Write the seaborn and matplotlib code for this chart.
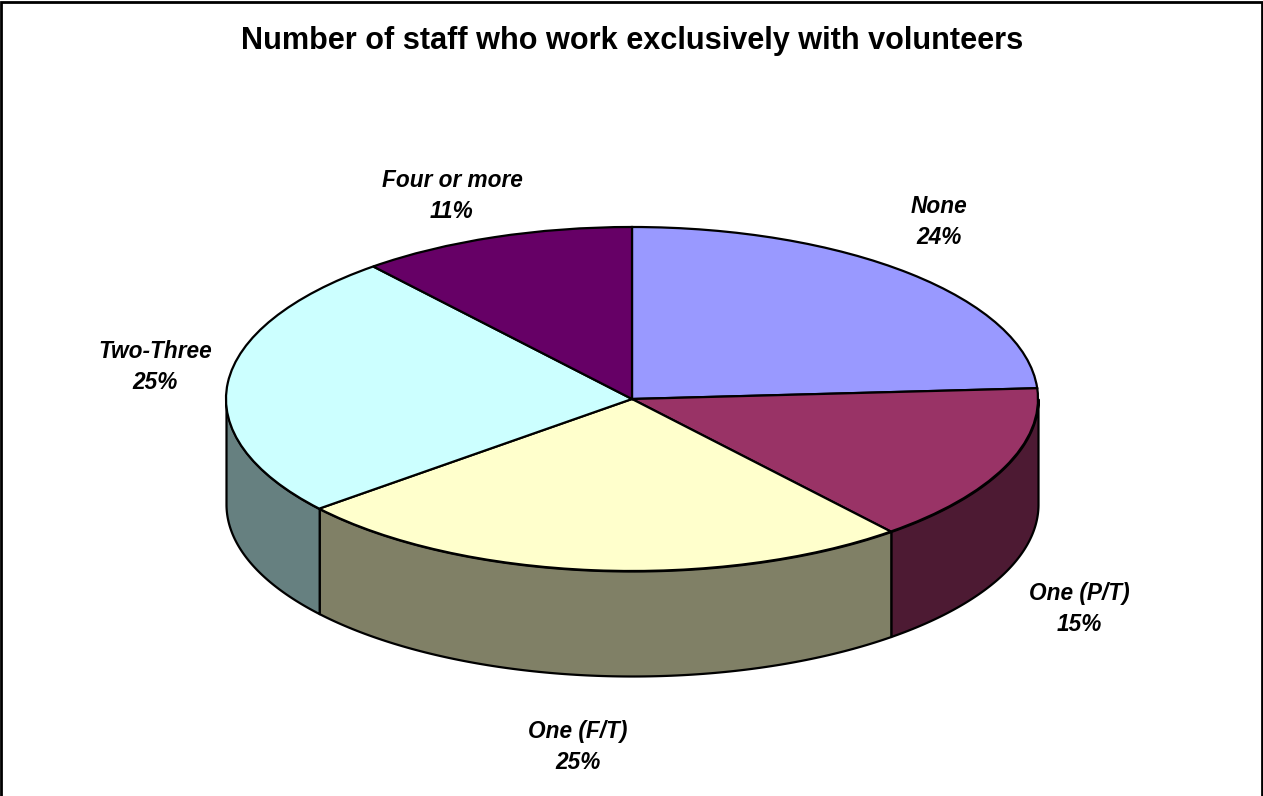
import numpy as np
import matplotlib
matplotlib.use("Agg")
import matplotlib.pyplot as plt
from matplotlib.lines import Line2D
import seaborn as sns

categories = ["None", "One (P/T)", "One (F/T)", "Two-Three", "Four or more"]
shares = [24, 15, 25, 25, 11]
top_colors = ["#9999FF", "#993366", "#FFFFCC", "#CCFFFF", "#660066"]
side_colors = ["#4D4D80", "#4D1A33", "#808066", "#668080", "#330033"]
title = "Number of staff who work exclusively with volunteers"

WIDTH, HEIGHT = 1263, 796
CX, CY = 632, 399      # disc centre, pixels from top left
RX, RY = 406, 172      # projected disc radii, pixels
DEPTH = 105            # height of the rim, pixels
LABEL_CENTRES = [(939, 222), (1079, 609), (578, 747), (155, 367), (452, 196)]

sns.set_theme(style="white")
plt.rcParams["font.family"] = ["Liberation Sans", "DejaVu Sans"]
palette = sns.color_palette(top_colors)
rim_palette = sns.color_palette(side_colors)

fig = plt.figure(figsize=(WIDTH / 100, HEIGHT / 100), dpi=100, facecolor="white")
ax = fig.add_axes([0, 0, 1, 1])

# Top face of the tilted disc: a pie squashed by the axis scales.
ax.pie(shares, colors=palette, startangle=90, counterclock=False,
       wedgeprops=dict(edgecolor="black", linewidth=1.6, zorder=3))
ax.set_aspect("auto")
ax.set_xlim(-CX / RX, (WIDTH - CX) / RX)
ax.set_ylim(-(HEIGHT - CY) / RY, CY / RY)

# Rim: only the front half of the disc (90 to 270 degrees clockwise from the top) shows.
edges = np.concatenate([[0], np.cumsum(shares)]) * 360 / sum(shares)
for start, stop, colour in zip(edges[:-1], edges[1:], rim_palette):
    lo, hi = max(start, 90), min(stop, 270)
    if lo >= hi:
        continue
    theta = np.radians(np.linspace(lo, hi, 120))
    x, y = np.sin(theta), np.cos(theta)
    ax.fill_between(x, y, y - DEPTH / RY, facecolor=colour, edgecolor="black",
                    linewidth=1.6, zorder=2)

# Slice captions.
for name, share, (px, py) in zip(categories, shares, LABEL_CENTRES):
    fig.text(px / WIDTH, 1 - py / HEIGHT, f"{name}\n{share}%", ha="center", va="center",
             fontsize=16.3, fontweight="bold", fontstyle="italic", color="black",
             linespacing=1.39)

fig.text(CX / WIDTH, 1 - 41 / HEIGHT, title, ha="center", va="center",
         fontsize=22.1, fontweight="bold", color="black")

# Chart-area frame along the left, top and right edges.
frame = Line2D([0.001, 0.001, 0.999, 0.999], [0, 0.9975, 0.9975, 0], color="black",
               linewidth=2, transform=fig.transFigure, solid_joinstyle="miter")
fig.add_artist(frame)

fig.savefig("out.png", dpi=100, facecolor="white")
